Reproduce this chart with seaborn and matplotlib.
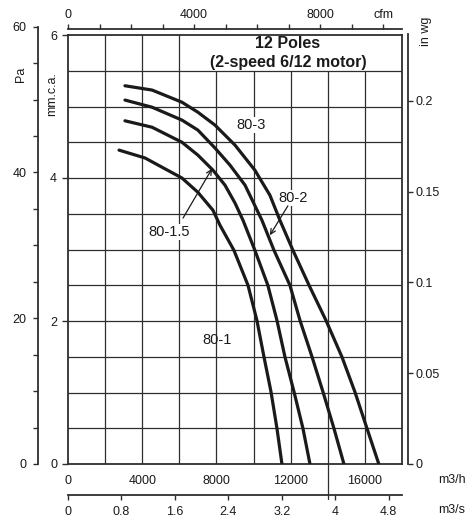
import numpy as np
import pandas as pd
import seaborn as sns
import matplotlib.pyplot as plt
from matplotlib.patches import Rectangle

# fan curves: flow in m3/h, static pressure in mm.c.a.
flow_80_3 = [3070, 4530, 6140, 7000, 7920, 9000, 10070, 10880, 11420, 12120,
             12990, 13900, 14760, 15460, 16110, 16750]
pres_80_3 = [5.29, 5.23, 5.06, 4.92, 4.74, 4.46, 4.11, 3.76, 3.41, 2.99,
             2.50, 2.01, 1.50, 1.01, 0.50, 0.0]

flow_80_2 = [3070, 4530, 6140, 7000, 7920, 8730, 9540, 10450, 11100, 11960,
             12500, 13150, 13740, 14330, 14870]
pres_80_2 = [5.09, 4.99, 4.81, 4.67, 4.42, 4.18, 3.90, 3.41, 2.99, 2.50,
             2.01, 1.50, 1.01, 0.50, 0.0]

flow_80_15 = [3070, 4530, 6140, 7000, 7810, 8460, 9000, 9430, 10070, 10770,
              11260, 11690, 12180, 12660, 13040]
pres_80_15 = [4.80, 4.71, 4.50, 4.32, 4.11, 3.90, 3.65, 3.41, 2.99, 2.50,
              2.01, 1.50, 1.01, 0.50, 0.0]

flow_80_1 = [2750, 4150, 6140, 7000, 7810, 8190, 8940, 9700, 10180, 10560,
             10940, 11260, 11530]
pres_80_1 = [4.39, 4.28, 4.00, 3.80, 3.55, 3.34, 2.99, 2.50, 2.01, 1.50,
             1.01, 0.50, 0.0]

models = ['80-3', '80-2', '80-1.5', '80-1']

# axis ticks
m3h_ticks = [0, 4000, 8000, 12000, 16000]
mm_ticks = [0, 2, 4, 6]
pa_ticks = list(range(0, 61, 5))
wg_ticks = [0, 0.05, 0.1, 0.15, 0.2]
wg_labels = ['0', '0.05', '0.1', '0.15', '0.2']
cfm_ticks = list(range(0, 10001, 1000))
cfm_labels = ['0', '', '', '', '4000', '', '', '', '8000', '', 'cfm']
m3s_ticks = [0, 0.8, 1.6, 2.4, 3.2, 4.0, 4.8]
m3s_labels = ['0', '0.8', '1.6', '2.4', '3.2', '4', '4.8']

df = pd.concat([
    pd.DataFrame({'flow': f, 'pressure': p, 'model': m})
    for f, p, m in zip([flow_80_3, flow_80_2, flow_80_15, flow_80_1],
                       [pres_80_3, pres_80_2, pres_80_15, pres_80_1], models)
])

sns.set_theme(style='ticks')
plt.rcParams['font.family'] = ['Liberation Sans', 'DejaVu Sans']

W, H = 470, 518
INK = '#1a1a1a'
GRID = '#2e2e2e'


def rect(l, t, r, b):
    return [l / W, 1 - b / H, (r - l) / W, (b - t) / H]


def only_spine(a, side):
    a.patch.set_visible(False)
    for s in a.spines:
        a.spines[s].set_visible(s == side)
    a.spines[side].set_linewidth(1.3)
    a.spines[side].set_color(GRID)


fig = plt.figure(figsize=(4.7, 5.18), dpi=100)

# main chart: m3/h vs mm.c.a.
ax = fig.add_axes(rect(68, 35, 402, 464))
sns.lineplot(data=df, x='flow', y='pressure', hue='model',
             palette=[INK] * 4, legend=False, sort=False, lw=2.3,
             ax=ax, zorder=3)
ax.set_xlim(0, 18000)
ax.set_ylim(0, 6)
ax.set_xlabel('')
ax.set_ylabel('')

for x in range(2000, 18000, 2000):
    if x == 14000:
        ax.axvline(x, ymin=-35 / 429, ymax=1, color=GRID, lw=0.9,
                   zorder=1, clip_on=False)
    else:
        ax.axvline(x, color=GRID, lw=0.9, zorder=1)
for y in np.arange(0.5, 6, 0.5):
    ax.axhline(y, color=GRID, lw=0.9, zorder=2)
ax.add_patch(Rectangle((7000, 5.5), 11000, 0.5, facecolor='white',
                       edgecolor='none', zorder=1.5))

for s in ax.spines.values():
    s.set_linewidth(1.3)
    s.set_color(GRID)
ax.set_xticks(m3h_ticks)
ax.set_xticklabels([str(v) for v in m3h_ticks])
ax.tick_params(axis='x', length=0, pad=8, labelsize=9, labelcolor=INK)
ax.set_yticks(mm_ticks)
ax.set_yticklabels([str(v) for v in mm_ticks])
ax.tick_params(axis='y', length=4.3, width=1, pad=3.5, labelsize=9,
               color=GRID, labelcolor=INK)

# Pa axis (same pressure, 1 mm.c.a. = 9.81 Pa)
pa_top = 464 - 60 / 9.81 * 71.5
ax_pa = fig.add_axes(rect(38, pa_top, 45, 464))
only_spine(ax_pa, 'left')
ax_pa.set_ylim(0, 60)
ax_pa.set_xticks([])
ax_pa.set_yticks(pa_ticks)
ax_pa.set_yticklabels([str(v) if v % 20 == 0 else '' for v in pa_ticks])
ax_pa.tick_params(axis='y', length=3.6, width=1, pad=4.5, labelsize=9,
                  color=GRID, labelcolor=INK)

# in wg axis on the right
wg_top = 34
ax_wg = fig.add_axes(rect(401, wg_top, 408, 464))
only_spine(ax_wg, 'right')
ax_wg.set_ylim(0, (464 - wg_top) / 71.5 / 25.4)
ax_wg.set_xticks([])
ax_wg.yaxis.tick_right()
ax_wg.set_yticks(wg_ticks)
ax_wg.set_yticklabels(wg_labels)
ax_wg.tick_params(axis='y', length=3.6, width=1, pad=1.5, labelsize=9,
                  color=GRID, labelcolor=INK)

# cfm axis on top
ax_cfm = fig.add_axes(rect(68, 29, 402, 33))
only_spine(ax_cfm, 'top')
ax_cfm.set_xlim(0, 18000 / 1.699)
ax_cfm.set_yticks([])
ax_cfm.xaxis.tick_top()
ax_cfm.set_xticks(cfm_ticks)
ax_cfm.set_xticklabels(cfm_labels)
ax_cfm.tick_params(axis='x', length=3.6, width=1, pad=2.5, labelsize=9,
                   color=GRID, labelcolor=INK)

# m3/s axis at the bottom
ax_ms = fig.add_axes(rect(68, 490, 402, 495))
only_spine(ax_ms, 'bottom')
ax_ms.set_xlim(0, 5)
ax_ms.set_yticks([])
ax_ms.set_xticks(m3s_ticks)
ax_ms.set_xticklabels(m3s_labels)
ax_ms.tick_params(axis='x', length=3.6, width=1, pad=4, labelsize=9,
                  color=GRID, labelcolor=INK)


def ftext(px, py, s, **kw):
    fig.text(px / W, 1 - py / H, s, ha='center', va='center', color=INK, **kw)


ftext(288, 44, '12 Poles', fontsize=11.5, fontweight='bold')
ftext(288, 62, '(2-speed 6/12 motor)', fontsize=11.5, fontweight='bold')
ftext(21, 74, 'Pa', fontsize=9, rotation=90)
ftext(52, 94, 'mm.c.a.', fontsize=9, rotation=90)
ftext(426, 31, 'in wg', fontsize=9, rotation=90)
ftext(452, 480, 'm3/h', fontsize=9)
ftext(452, 510, 'm3/s', fontsize=9)

# curve labels
box = dict(facecolor='white', edgecolor='none', pad=0.5)
ax.text(9860, 4.74, '80-3', fontsize=10.5, ha='center', va='center',
        color=INK, bbox=box, zorder=4)
ax.text(12120, 3.72, '80-2', fontsize=10.5, ha='center', va='center',
        color=INK, bbox=box, zorder=4)
ax.text(5440, 3.245, '80-1.5', fontsize=10.5, ha='center', va='center',
        color=INK, bbox=box, zorder=4)
ax.text(8030, 1.73, '80-1', fontsize=10.5, ha='center', va='center',
        color=INK, zorder=4)

arrow = dict(arrowstyle='->', lw=0.9, color=INK, shrinkA=0, shrinkB=0,
             mutation_scale=9)
ax.annotate('', xy=(7760, 4.13), xytext=(6200, 3.44), arrowprops=arrow,
            zorder=4)
ax.annotate('', xy=(10880, 3.20), xytext=(11850, 3.61), arrowprops=arrow,
            zorder=4)

fig.savefig('out.png', dpi=100)
